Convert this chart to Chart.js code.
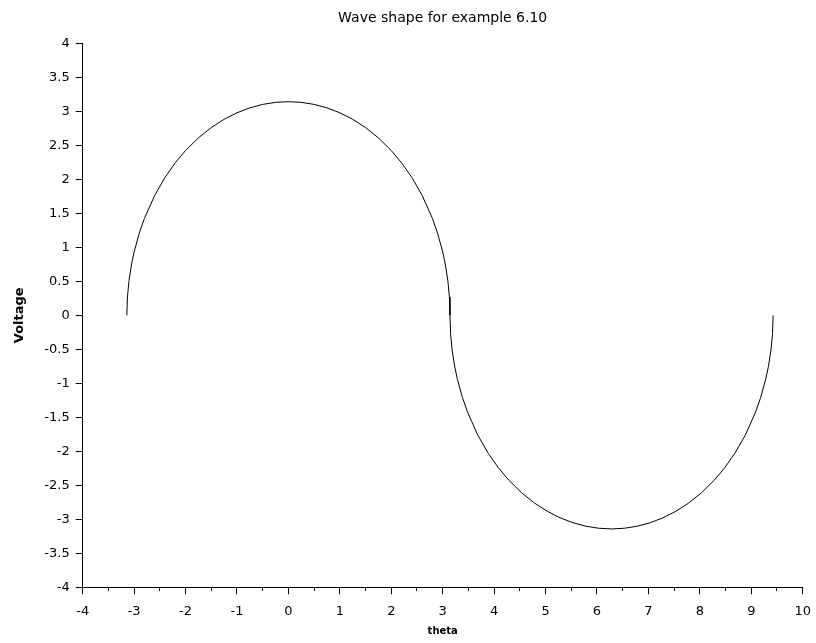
<!DOCTYPE html>
<html>
<head>
<meta charset="utf-8">
<script src="https://cdn.jsdelivr.net/npm/chart.js@4/dist/chart.umd.min.js"></script>
<style>
  html, body { margin: 0; padding: 0; background: #ffffff; }
  #wrap { width: 816px; height: 643px; position: relative; }
</style>
</head>
<body>
<div id="wrap"><canvas id="c" width="816" height="643"></canvas></div>
<script>
// Values (theta vs voltage)
const theta = [
  -3.1416, -3.13, -3.10, -3.05, -3.00, -2.90, -2.80, -2.60, -2.40, -2.20, -2.00,
  -1.75, -1.50, -1.25, -1.00, -0.75, -0.50, -0.25, 0.00, 0.25, 0.50, 0.75, 1.00,
  1.25, 1.50, 1.75, 2.00, 2.20, 2.40, 2.60, 2.80, 2.90, 3.00, 3.05, 3.10, 3.13, 3.1416,
  3.1532, 3.1832, 3.2332, 3.2832, 3.3832, 3.4832, 3.6832, 3.8832, 4.0832, 4.2832,
  4.5332, 4.7832, 5.0332, 5.2832, 5.5332, 5.7832, 6.0332, 6.2832, 6.5332, 6.7832,
  7.0332, 7.2832, 7.5332, 7.7832, 8.0332, 8.2832, 8.4832, 8.6832, 8.8832, 9.0832,
  9.1832, 9.2832, 9.3332, 9.3832, 9.4132, 9.4248
];
const voltage = [
  0.0000, 0.2696, 0.5095, 0.7531, 0.9325, 1.2081, 1.4246, 1.7634, 2.0272, 2.2427, 2.4227,
  2.6090, 2.7604, 2.8822, 2.9782, 3.0508, 3.1015, 3.1316, 3.1416, 3.1316, 3.1015, 3.0508, 2.9782,
  2.8822, 2.7604, 2.6090, 2.4227, 2.2427, 2.0272, 1.7634, 1.4246, 1.2081, 0.9325, 0.7531, 0.5095, 0.2696, 0.0000,
  -0.2696, -0.5095, -0.7531, -0.9325, -1.2081, -1.4246, -1.7634, -2.0272, -2.2427, -2.4227,
  -2.6090, -2.7604, -2.8822, -2.9782, -3.0508, -3.1015, -3.1316, -3.1416, -3.1316, -3.1015,
  -3.0508, -2.9782, -2.8822, -2.7604, -2.6090, -2.4227, -2.2427, -2.0272, -1.7634, -1.4246,
  -1.2081, -0.9325, -0.7531, -0.5095, -0.2696, 0.0000
];
const xTickRange = { min: -4, max: 10, step: 1 };
const yTickRange = { min: -4, max: 4, step: 0.5 };
const titleText = 'Wave shape for example 6.10';
const xLabel = 'theta';
const yLabel = 'Voltage';

const points = theta.map((t, i) => ({ x: t, y: voltage[i] }));

const FONT = "'DejaVu Sans', sans-serif";

const minorTicks = {
  id: 'minorTicks',
  afterDraw(chart) {
    const xs = chart.scales.x;
    const ctx = chart.ctx;
    const yAxis = Math.floor(chart.chartArea.bottom) + 0.5;
    ctx.save();
    ctx.strokeStyle = '#000';
    ctx.lineWidth = 1;
    ctx.beginPath();
    for (let v = xTickRange.min + xTickRange.step / 2; v < xTickRange.max; v += xTickRange.step) {
      const px = Math.floor(xs.getPixelForValue(v)) + 0.5;
      ctx.moveTo(px, yAxis);
      ctx.lineTo(px, yAxis + 3.5);
    }
    ctx.stroke();
    ctx.restore();
  }
};

new Chart(document.getElementById('c'), {
  type: 'scatter',
  data: {
    datasets: [{
      data: points,
      showLine: true,
      borderColor: '#000000',
      borderWidth: 1,
      pointRadius: 0,
      fill: false,
      tension: 0
    }]
  },
  options: {
    responsive: false,
    animation: false,
    layout: { padding: { left: 0, right: 13.3, top: 0, bottom: 0 } },
    plugins: {
      legend: { display: false },
      tooltip: { enabled: false },
      title: {
        display: true,
        text: titleText,
        fullSize: false,
        color: '#000',
        font: { family: FONT, size: 14, weight: 'normal' },
        padding: { top: 10, bottom: 16.5 }
      }
    },
    scales: {
      x: {
        type: 'linear',
        position: 'bottom',
        min: xTickRange.min,
        max: xTickRange.max,
        afterFit(s) { s.height = 55.7; s.paddingLeft = 0; s.paddingRight = 0; },
        ticks: {
          stepSize: xTickRange.step,
          color: '#000',
          font: { family: FONT, size: 13 },
          padding: 10,
          maxRotation: 0,
          autoSkip: false,
          callback: (v) => String(v)
        },
        grid: { drawOnChartArea: false, drawTicks: true, tickLength: 7, tickColor: '#000', color: '#000' },
        border: { display: true, color: '#000', width: 1 },
        title: {
          display: true,
          text: xLabel,
          color: '#000',
          font: { family: FONT, size: 10, weight: 'bold' },
          padding: { top: 0, bottom: 6 }
        }
      },
      y: {
        type: 'linear',
        position: 'left',
        min: yTickRange.min,
        max: yTickRange.max,
        afterFit(s) { s.width = 82.7; s.paddingTop = 0; s.paddingBottom = 0; },
        ticks: {
          stepSize: yTickRange.step,
          color: '#000',
          font: { family: FONT, size: 13 },
          padding: 6,
          autoSkip: false,
          callback: (v) => String(v)
        },
        grid: { drawOnChartArea: false, drawTicks: true, tickLength: 7, tickColor: '#000', color: '#000' },
        border: { display: true, color: '#000', width: 1 },
        title: {
          display: true,
          text: yLabel,
          color: '#000',
          font: { family: FONT, size: 13, weight: 'bold' },
          padding: { top: 12, bottom: 0 }
        }
      }
    }
  },
  plugins: [minorTicks]
});
</script>
</body>
</html>
